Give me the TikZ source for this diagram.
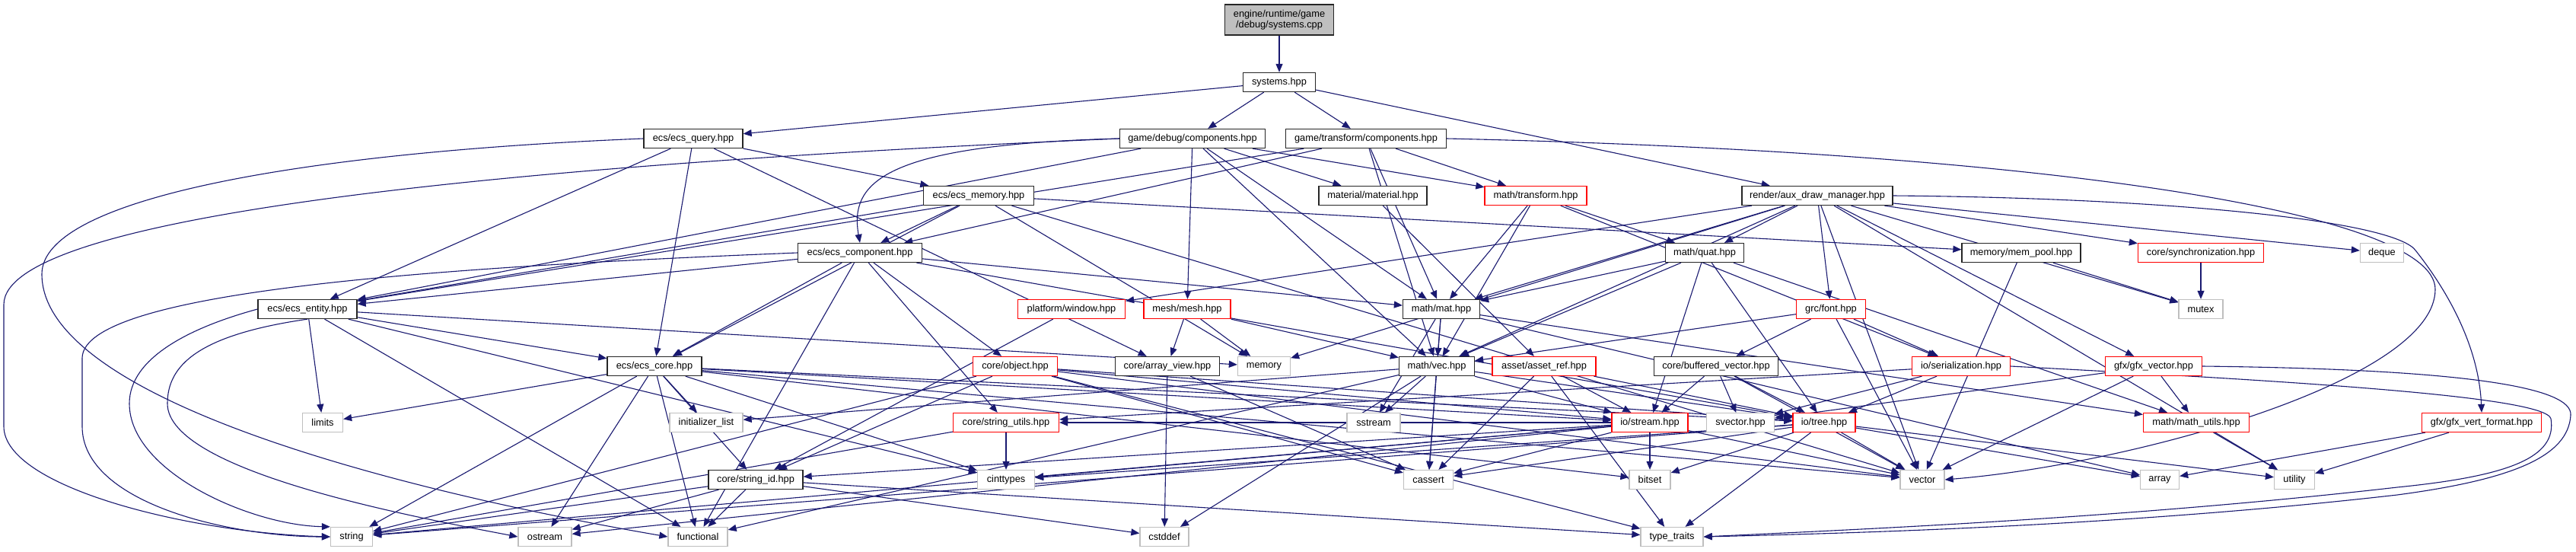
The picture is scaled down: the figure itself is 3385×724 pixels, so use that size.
\documentclass[tikz,border=0pt]{standalone}
\usepackage{fontspec}
\setmainfont{Liberation Sans}
\usetikzlibrary{arrows.meta}
\definecolor{edgec}{HTML}{191970}
\definecolor{sysgray}{HTML}{BFBFBF}
\pgfdeclarelayer{back}
\pgfdeclarelayer{bg}
\pgfsetlayers{back,bg,main}
\begin{document}
\begin{tikzpicture}[x=1pt,y=-1pt,
  nd/.style={draw=black!85, line width=1.3pt, fill=white, rectangle, minimum height=25pt,
    inner xsep=2pt, inner ysep=0pt, font=\fontsize{12.8pt}{14pt}\selectfont},
  hdr/.style={nd},
  trunc/.style={nd, draw=red},
  stdh/.style={nd, draw=sysgray},
  topn/.style={nd, fill=sysgray, minimum height=40pt, align=center},
  e/.style={draw=edgec, line width=1.1pt, -{Triangle[length=11pt,width=9pt]}}]
\begin{pgfonlayer}{back}
\fill[white] (0,0) rectangle (3385,724);
\end{pgfonlayer}
\useasboundingbox (0,0) rectangle (3385,724);
% row 0-1
\node[topn, minimum width=143pt] (top) at (1681,26) {engine/runtime/game\\/debug/systems.cpp};
\node[hdr, minimum width=95pt] (sys) at (1681,108) {systems.hpp};
% row 2
\node[hdr, minimum width=130pt] (query) at (911,182) {ecs/ecs\_query.hpp};
\node[hdr, minimum width=191pt] (gdc) at (1567,182) {game/debug/components.hpp};
\node[hdr, minimum width=211pt] (gtc) at (1795,182) {game/transform/components.hpp};
% row 3
\node[hdr, minimum width=145pt] (mem) at (1286,257) {ecs/ecs\_memory.hpp};
\node[hdr, minimum width=142pt] (mat) at (1804,257) {material/material.hpp};
\node[trunc, minimum width=134pt] (mtr) at (2018,257) {math/transform.hpp};
\node[hdr, minimum width=198pt] (adm) at (2388,257) {render/aux\_draw\_manager.hpp};
% row 4
\node[hdr, minimum width=163pt] (comp) at (1130,332) {ecs/ecs\_component.hpp};
\node[hdr, minimum width=103pt] (quat) at (2240,332) {math/quat.hpp};
\node[hdr, minimum width=156pt] (pool) at (2656,332) {memory/mem\_pool.hpp};
\node[trunc, minimum width=165pt] (sync) at (2892,332) {core/synchronization.hpp};
\node[stdh, minimum width=57pt] (deque) at (3130,332) {deque};
% row 5
\node[hdr, minimum width=130pt] (ent) at (404,406) {ecs/ecs\_entity.hpp};
\node[trunc, minimum width=141pt] (win) at (1408,406) {platform/window.hpp};
\node[trunc, minimum width=114pt] (mesh) at (1560,406) {mesh/mesh.hpp};
\node[hdr, minimum width=101pt] (mmat) at (1894,406) {math/mat.hpp};
\node[trunc, minimum width=91pt] (font) at (2406,406) {grc/font.hpp};
\node[stdh, minimum width=58pt] (mutex) at (2892,406) {mutex};
% row 6
\node[hdr, minimum width=124pt] (core) at (860,481) {ecs/ecs\_core.hpp};
\node[trunc, minimum width=111pt] (obj) at (1334,481) {core/object.hpp};
\node[hdr, minimum width=137pt] (av) at (1534,481) {core/array\_view.hpp};
\node[stdh, minimum width=69pt] (memory) at (1661,481) {memory};
\node[hdr, minimum width=99pt] (vec) at (1888,481) {math/vec.hpp};
\node[trunc, minimum width=136pt] (aref) at (2029,481) {asset/asset\_ref.hpp};
\node[hdr, minimum width=163pt] (bv) at (2255,481) {core/buffered\_vector.hpp};
\node[trunc, minimum width=129pt] (ser) at (2577,481) {io/serialization.hpp};
\node[trunc, minimum width=127pt] (gv) at (2830,481) {gfx/gfx\_vector.hpp};
% row 7
\node[stdh, minimum width=53pt] (limits) at (424,555) {limits};
\node[stdh, minimum width=96pt] (il) at (928,555) {initializer\_list};
\node[trunc, minimum width=139pt] (su) at (1322,555) {core/string\_utils.hpp};
\node[stdh, minimum width=70pt] (ss) at (1805,555) {sstream};
\node[trunc, minimum width=100pt] (st) at (2168,555) {io/stream.hpp};
\node[stdh, minimum width=89pt] (sv) at (2287,555) {svector.hpp};
\node[trunc, minimum width=82pt] (tree) at (2397,555) {io/tree.hpp};
\node[trunc, minimum width=139pt] (mu) at (2886,555) {math/math\_utils.hpp};
\node[trunc, minimum width=157pt] (gvf) at (3261,555) {gfx/gfx\_vert\_format.hpp};
% row 8
\node[hdr, minimum width=124pt] (sid) at (993,630) {core/string\_id.hpp};
\node[stdh, minimum width=75pt] (cint) at (1322,630) {cinttypes};
\node[stdh, minimum width=65pt] (cassert) at (1877,630) {cassert};
\node[stdh, minimum width=54pt] (bitset) at (2168,630) {bitset};
\node[stdh, minimum width=58pt] (vector) at (2526,630) {vector};
\node[stdh, minimum width=51pt] (array) at (2838,630) {array};
\node[stdh, minimum width=53pt] (utility) at (3015,630) {utility};
% row 9
\node[stdh, minimum width=55pt] (string) at (462,705) {string};
\node[stdh, minimum width=70pt] (ostream) at (716,705) {ostream};
\node[stdh, minimum width=78pt] (functional) at (917,705) {functional};
\node[stdh, minimum width=64pt] (cstddef) at (1530,705) {cstddef};
\node[stdh, minimum width=82pt] (tt) at (2197,705) {type\_traits};

\begin{pgfonlayer}{bg}
\foreach \a/\b in {top/sys,
  sys/query, sys/gdc, sys/gtc, sys/adm,
  query/ent, query/mem, query/core, query/av,
  gdc/ent, gdc/mesh, gdc/mat, gdc/mtr, gdc/mmat, gdc/vec,
  gtc/mtr, gtc/mmat, gtc/vec, gtc/comp, gtc/ent,
  mem/comp, mem/core, mem/ent, mem/pool, mem/memory, mem/vector,
  mat/aref,
  mtr/quat, mtr/mmat, mtr/vec, mtr/ser,
  adm/quat, adm/font, adm/gv, adm/sync, adm/deque, adm/mutex, adm/mmat, adm/vec,
  adm/win, adm/vector, adm/memory, adm/utility,
  comp/ent, comp/core, comp/obj, comp/su, comp/functional, comp/mmat, comp/tree,
  pool/mutex, pool/vector,
  quat/mmat, quat/vec, quat/st, quat/tree, quat/mu,
  sync/mutex,
  ent/core, ent/limits, ent/cint, ent/memory, ent/functional,
  win/sid,
  mesh/av, mesh/memory, mesh/vec,
  mmat/vec, mmat/ss, mmat/cassert, mmat/mu, mmat/array,
  font/vec, font/bv, font/ser, font/vector,
  core/limits, core/il, core/string, core/ostream, core/functional, core/sid, core/cint,
  core/st, core/tree, core/vector, core/bitset,
  obj/sid, obj/string, obj/st, obj/tree, obj/cassert, obj/vector, obj/tt,
  av/cstddef, av/cassert,
  vec/ss, vec/cassert, vec/st, vec/tree, vec/functional, vec/cstddef, vec/il,
  aref/st, aref/tree, aref/cassert, aref/tt,
  bv/st, bv/sv, bv/tree, bv/vector,
  ser/tree, ser/sv, ser/su,
  gv/mu, gv/vector, gv/sv,
  st/su, st/sid, st/cint, st/bitset, st/vector, st/cassert, st/ostream, st/string,
  tree/vector, tree/cassert, tree/bitset, tree/tt, tree/cint, tree/array, tree/utility, tree/string,
  su/cint, su/string,
  mu/utility,
  gvf/array, gvf/utility,
  sid/string, sid/ostream, sid/functional, sid/cstddef, sid/tt}
  \draw[e] (\a) -- (\b);
% curved connectors
\draw[e] (gdc.west) .. controls (1160,190) and (1116,240) .. (comp.north);
\draw[e] (gdc.west) .. controls (700,215) and (5,280) .. (5,400) -- (5,560) .. controls (5,640) and (250,700) .. (string.west);
\draw[e] (query.west) .. controls (400,200) and (55,260) .. (55,360) .. controls (55,520) and (500,640) .. (functional.west);
\draw[e] (comp.west) .. controls (600,350) and (110,380) .. (108,470) -- (108,560) .. controls (108,660) and (300,705) .. (string.west);
\draw[e] (ent.west) .. controls (250,430) and (170,470) .. (170,530) .. controls (170,620) and (330,690) .. (string.north west);
\draw[e] (ent.south) .. controls (260,440) and (220,480) .. (220,530) .. controls (220,620) and (550,680) .. (ostream.west);
\draw[e] (gtc.east) .. controls (2700,200) and (3200,280) .. (3200,380) .. controls (3200,500) and (2800,610) .. (vector.east);
\draw[e] (adm.east) .. controls (2850,260) and (3150,290) .. (3175,330) .. controls (3230,400) and (3258,470) .. (gvf.north);
\draw[e] (gv.east) .. controls (3250,485) and (3380,510) .. (3378,545) .. controls (3375,600) and (3300,630) .. (3150,650) .. controls (2800,690) and (2450,700) .. (tt.east);
\draw[e] (ser.east) .. controls (3000,500) and (3345,520) .. (3352,550) .. controls (3360,600) and (3300,625) .. (3150,640) .. controls (2800,680) and (2450,695) .. (tt.east);
\end{pgfonlayer}
\end{tikzpicture}
\end{document}
